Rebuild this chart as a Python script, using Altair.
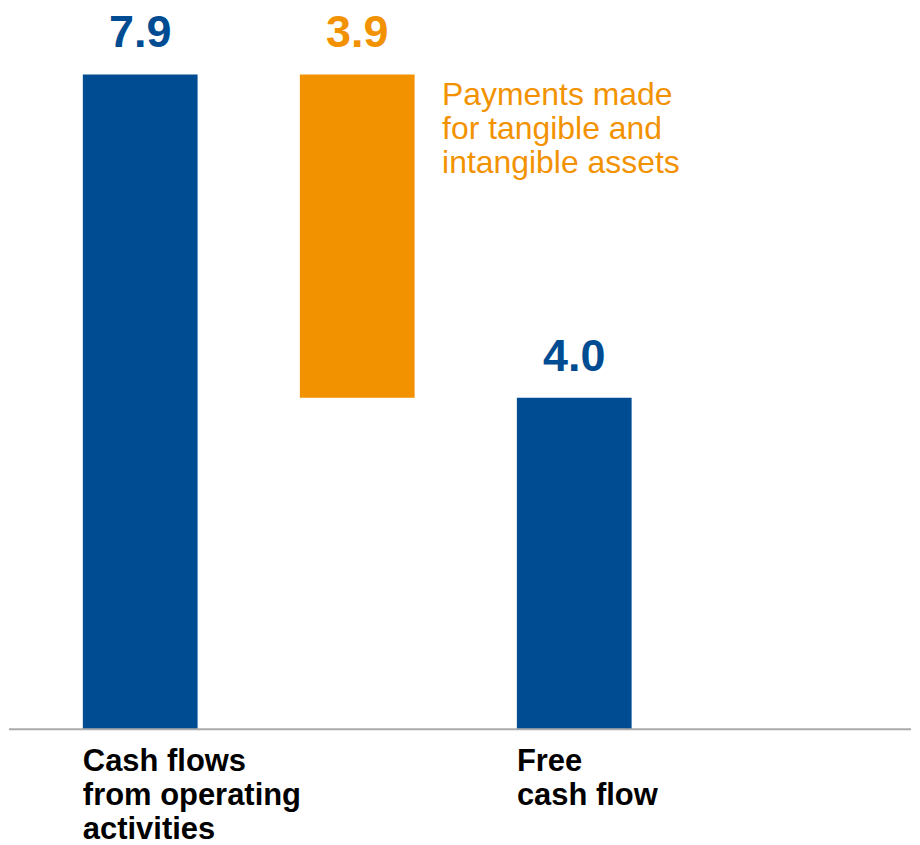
import altair as alt
import pandas as pd

# Data
categories = ["Cash flows\nfrom operating\nactivities",
              "Payments made\nfor tangible and\nintangible assets",
              "Free\ncash flow"]
steps = [7.9, -3.9, 4.0]
kinds = ["total", "delta", "total"]
value_labels = ["7.9", "3.9", "4.0"]

BLUE = "#004C93"
ORANGE = "#F39200"
FONT = "Liberation Sans"

rows = []
running = 0.0
for i, (cat, v, k, lab) in enumerate(zip(categories, steps, kinds, value_labels)):
    if k == "total":
        start, end = 0.0, v
        running = v
    else:
        start, end = running, running + v
        running = running + v
    rows.append({"idx": i, "cat": cat, "start": start, "end": end,
                 "top": max(start, end), "label": lab, "kind": k,
                 "lines": cat.split("\n")})
df = pd.DataFrame(rows)

W, H = 904, 722
xscale = alt.Scale(domain=[-0.6046, 3.5517], nice=False, zero=False, padding=0)
yscale = alt.Scale(domain=[0, 8.69], nice=False, zero=True)
color_scale = alt.Scale(domain=["total", "delta"], range=[BLUE, ORANGE])

base = alt.Chart(df)

bars = base.mark_bar(size=115).encode(
    x=alt.X("idx:Q", scale=xscale, axis=None),
    y=alt.Y("start:Q", scale=yscale, axis=None),
    y2="end:Q",
    color=alt.Color("kind:N", scale=color_scale, legend=None),
)

rule = alt.Chart(pd.DataFrame({"y": [0]})).mark_rule(
    color="#ABABAB", strokeWidth=2
).encode(
    y=alt.Y("y:Q", scale=yscale, axis=None),
    x=alt.value(0), x2=alt.value(W),
)

vlabels = base.mark_text(
    font=FONT, fontSize=45, fontWeight="bold", baseline="alphabetic",
    align="center", dy=-27
).encode(
    x=alt.X("idx:Q", scale=xscale, axis=None),
    y=alt.Y("top:Q", scale=yscale, axis=None),
    text="label:N",
    color=alt.Color("kind:N", scale=color_scale, legend=None),
)

cat_labels = base.transform_filter("datum.kind == 'total'").mark_text(
    font=FONT, fontSize=31, fontWeight="bold", baseline="alphabetic",
    align="left", dx=-57.5, dy=42, lineHeight=34, color="black"
).encode(
    x=alt.X("idx:Q", scale=xscale, axis=None),
    y=alt.value(H),
    text="lines",
)

annot = base.transform_filter("datum.kind == 'delta'").mark_text(
    font=FONT, fontSize=32, baseline="alphabetic",
    align="left", dx=85, dy=31, lineHeight=34, color=ORANGE
).encode(
    x=alt.X("idx:Q", scale=xscale, axis=None),
    y=alt.Y("top:Q", scale=yscale, axis=None),
    text="lines",
)

chart = alt.layer(bars, rule, vlabels, cat_labels, annot).properties(
    width=W, height=H, padding=0
).configure_view(stroke=None)

chart.save("out.html", embed_options={"renderer": "svg", "actions": False})
